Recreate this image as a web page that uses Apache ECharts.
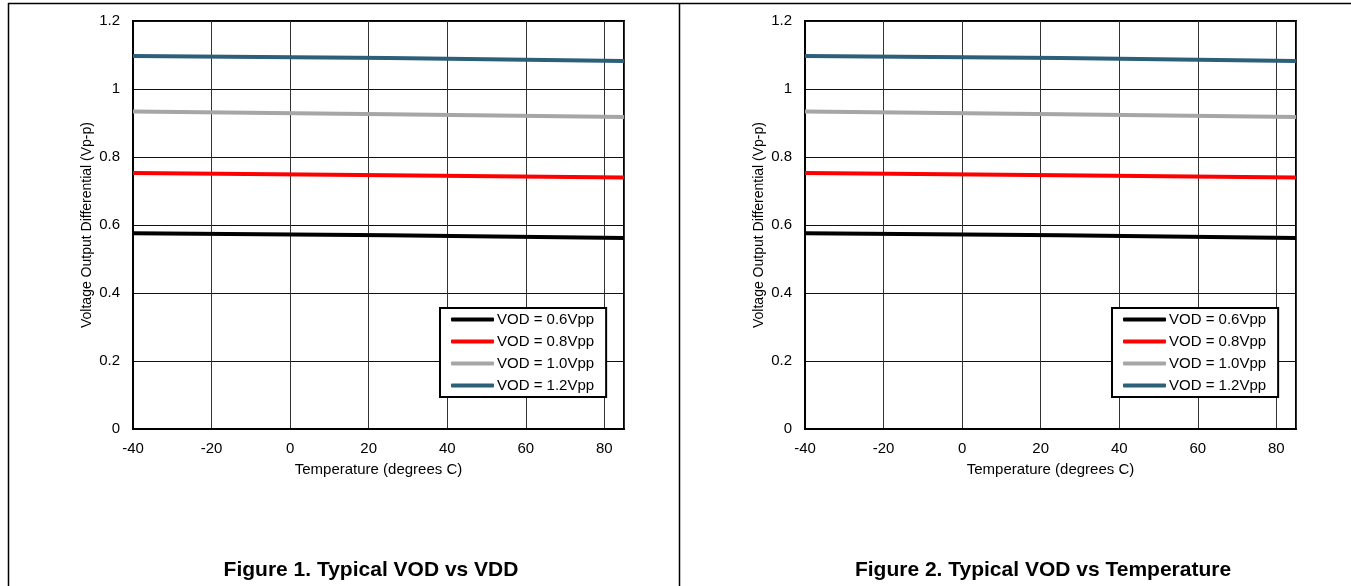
<!DOCTYPE html>
<html>
<head>
<meta charset="utf-8">
<script src="https://cdn.jsdelivr.net/npm/echarts@6/dist/echarts.min.js"></script>
<style>
html,body{margin:0;padding:0;background:#fff;}
#chart{width:1351px;height:586px;}
</style>
</head>
<body>
<div id="chart"></div>
<script>
// ---- data ----
var temps = [-40, 25, 85];
var seriesNames = ['VOD = 0.6Vpp', 'VOD = 0.8Vpp', 'VOD = 1.0Vpp', 'VOD = 1.2Vpp'];
var vod06 = [0.576, 0.570, 0.562];
var vod08 = [0.753, 0.746, 0.740];
var vod10 = [0.934, 0.926, 0.918];
var vod12 = [1.097, 1.091, 1.082];
var seriesColors = ['#000000', '#FF0000', '#A6A6A6', '#2B5F7A'];
var captions = ['Figure 1. Typical VOD vs VDD', 'Figure 2. Typical VOD vs Temperature'];
var xTitle = 'Temperature (degrees C)';
var yTitle = 'Voltage Output Differential (Vp-p)';

var allValues = [vod06, vod08, vod10, vod12];
var FONT = 'Liberation Sans, Arial, sans-serif';

function pairs(vals) {
  return temps.map(function (t, i) { return [t, vals[i]]; });
}

var grids = [
  { left: 133, top: 21, width: 491, height: 408, show: true, borderColor: '#000', borderWidth: 2 },
  { left: 805, top: 21, width: 491, height: 408, show: true, borderColor: '#000', borderWidth: 2 }
];

function xAxis(gi) {
  return {
    type: 'value', gridIndex: gi, min: -40, max: 85, interval: 20,
    name: xTitle, nameLocation: 'middle', nameGap: 33,
    nameTextStyle: { fontFamily: FONT, fontSize: 15, color: '#000' },
    axisLine: { show: true, onZero: false, lineStyle: { color: '#000', width: 2 } },
    axisTick: { show: false },
    axisLabel: { showMaxLabel: false, fontFamily: FONT, fontSize: 15, color: '#000', margin: 12 },
    splitLine: { show: true, lineStyle: { color: '#333', width: 1 } }
  };
}
function yAxis(gi) {
  return {
    type: 'value', gridIndex: gi, min: 0, max: 1.2, interval: 0.2,
    name: yTitle, nameLocation: 'middle', nameGap: 39, nameRotate: 90,
    nameTextStyle: { fontFamily: FONT, fontSize: 14, color: '#000' },
    axisLine: { show: true, onZero: false, lineStyle: { color: '#000', width: 2 } },
    axisTick: { show: false },
    axisLabel: {
      fontFamily: FONT, fontSize: 15, color: '#000', margin: 13,
      formatter: function (v) { return String(Math.round(v * 10) / 10); }
    },
    splitLine: { show: true, lineStyle: { color: '#111', width: 1 } }
  };
}

var series = [];
[0, 1].forEach(function (gi) {
  allValues.forEach(function (vals, si) {
    series.push({
      name: seriesNames[si], type: 'line', xAxisIndex: gi, yAxisIndex: gi,
      data: pairs(vals), symbol: 'none', animation: false,
      lineStyle: { color: seriesColors[si], width: 4 },
      itemStyle: { color: seriesColors[si] }
    });
  });
});

function legend(left) {
  return {
    orient: 'vertical', left: left, top: 308,
    padding: [4, 12, 4, 11], itemGap: 7, itemWidth: 43, itemHeight: 4,
    backgroundColor: '#fff', borderColor: '#000', borderWidth: 2,
    icon: 'roundRect',
    textStyle: { fontFamily: FONT, fontSize: 15, color: '#000', padding: [0, 0, 0, -2] },
    data: seriesNames, selectedMode: false
  };
}

var option = {
  backgroundColor: '#fff',
  animation: false,
  grid: grids,
  xAxis: [xAxis(0), xAxis(1)],
  yAxis: [yAxis(0), yAxis(1)],
  legend: [legend(440), legend(1112)],
  title: [
    { text: captions[0], left: 371, top: 560, textAlign: 'center',
      textStyle: { fontFamily: FONT, fontSize: 21, fontWeight: 'bold', color: '#000' }, padding: 0 },
    { text: captions[1], left: 1043, top: 560, textAlign: 'center',
      textStyle: { fontFamily: FONT, fontSize: 21, fontWeight: 'bold', color: '#000' }, padding: 0 }
  ],
  graphic: [
    { type: 'line', shape: { x1: 8, y1: 3.5, x2: 1351, y2: 3.5 }, style: { stroke: '#000', lineWidth: 1.5 } },
    { type: 'line', shape: { x1: 8.5, y1: 3, x2: 8.5, y2: 586 }, style: { stroke: '#000', lineWidth: 1.5 } },
    { type: 'line', shape: { x1: 679.5, y1: 3, x2: 679.5, y2: 586 }, style: { stroke: '#000', lineWidth: 1.5 } }
  ],
  series: series
};

var chart = echarts.init(document.getElementById('chart'));
chart.setOption(option);
</script>
</body>
</html>
